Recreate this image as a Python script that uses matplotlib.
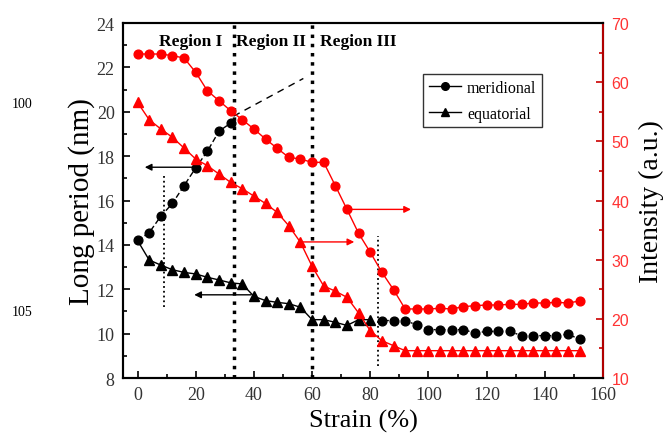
import numpy as np
import matplotlib
matplotlib.use('Agg')
import matplotlib.pyplot as plt
from matplotlib.lines import Line2D
from matplotlib.ticker import MultipleLocator

plt.rcParams['font.family'] = ['Liberation Serif', 'DejaVu Serif']

# long period (left axis), meridional split by a gap between 32 and 84 %
strain_mer_a = [0, 4, 8, 12, 16, 20, 24, 28, 32]
lp_mer_a = [14.2, 14.55, 15.29, 15.87, 16.67, 17.47, 18.22, 19.12, 19.49]
strain_mer_b = [84, 88, 92, 96, 100, 104, 108, 112, 116, 120, 124, 128, 132, 136, 140, 144, 148, 152]
lp_mer_b = [10.59, 10.59, 10.59, 10.39, 10.18, 10.18, 10.18, 10.18, 10.03, 10.10,
            10.10, 10.10, 9.91, 9.91, 9.91, 9.91, 9.98, 9.74]

strain_equ = [0, 4, 8, 12, 16, 20, 24, 28, 32, 36, 40, 44, 48, 52, 56, 60, 64, 68, 72, 76, 80]
lp_equ = [14.2, 13.32, 13.09, 12.88, 12.76, 12.69, 12.54, 12.42, 12.29, 12.24, 11.68,
          11.49, 11.41, 11.35, 11.19, 10.63, 10.63, 10.51, 10.37, 10.63, 10.63]

# intensity (right axis)
strain_int = list(range(0, 153, 4))
int_mer = [64.76, 64.76, 64.76, 64.48, 64.09, 61.66, 58.56, 56.87, 55.18, 53.66,
           52.09, 50.40, 48.82, 47.30, 47.01, 46.45, 46.45, 42.50, 38.50, 34.45,
           31.25, 27.87, 24.93, 21.67, 21.67, 21.67, 21.78, 21.67, 22.06, 22.23,
           22.34, 22.34, 22.45, 22.45, 22.68, 22.68, 22.79, 22.68, 23.02]
int_equ = [56.59, 53.66, 52.09, 50.68, 48.87, 47.01, 45.89, 44.48, 43.07, 42.0,
           40.75, 39.5, 38.0, 35.74, 32.93, 28.88, 25.55, 24.68, 23.64, 20.99,
           18.0, 16.31, 15.46] + [14.62] * 16

# annotations
region_bounds = [33, 60]
region_names = ['Region I', 'Region II', 'Region III']
region_x = [18.4, 45.7, 76]
extrap_x = [33, 57]
extrap_y = [19.8, 21.5]

red = '#ff0000'

fig = plt.figure(figsize=(6.64, 4.35), dpi=100)
ax = fig.add_axes([0.1852, 0.1287, 0.7229, 0.8161])
ax2 = ax.twinx()

# left axis data
ax.plot(strain_mer_a, lp_mer_a, color='k', lw=1, ls=(0, (4, 2)), marker='o', ms=6.3, zorder=4)
ax.plot(strain_mer_b, lp_mer_b, color='k', lw=1, ls=(0, (1.5, 2)), marker='o', ms=6.3, zorder=4)
ax.plot(strain_equ, lp_equ, color='k', lw=1, marker='^', ms=7.3, markevery=slice(1, None), zorder=3)
ax.plot(extrap_x, extrap_y, color='k', lw=1, ls=(0, (5, 4)))

# right axis data
ax2.plot(strain_int, int_mer, color=red, lw=1, marker='o', ms=6.3)
ax2.plot(strain_int, int_equ, color=red, lw=1, marker='^', ms=7.3)

# region separators
for xb in region_bounds:
    ax.axvline(xb, color='k', ls=':', lw=2.5, zorder=5)
for name, xr in zip(region_names, region_x):
    ax.text(xr, 23.2, name, ha='center', va='center', fontsize=12.5, fontweight='bold')

ax.plot([9, 9], [11.2, 17.1], color='k', ls=':', lw=1.3)
ax.plot([82.7, 82.7], [8.55, 14.4], color='k', ls=':', lw=1.3)

# arrows
arr_k = dict(arrowstyle='-|>', color='k', lw=1, mutation_scale=10, shrinkA=0, shrinkB=0)
arr_r = dict(arrowstyle='-|>', color=red, lw=1, mutation_scale=10, shrinkA=0, shrinkB=0)
ax.annotate('', xy=(2.5, 17.5), xytext=(20, 17.5), arrowprops=arr_k)
ax.annotate('', xy=(19.5, 11.75), xytext=(39, 11.75), arrowprops=arr_k)
ax2.annotate('', xy=(94, 38.5), xytext=(72, 38.5), arrowprops=arr_r)
ax2.annotate('', xy=(74.5, 33.0), xytext=(56, 33.0), arrowprops=arr_r)

# axes
ax.set_xlim(-5, 160)
ax.set_ylim(8, 24)
ax2.set_ylim(10, 70)
ax.xaxis.set_major_locator(MultipleLocator(20))
ax.xaxis.set_minor_locator(MultipleLocator(10))
ax.yaxis.set_major_locator(MultipleLocator(2))
ax.yaxis.set_minor_locator(MultipleLocator(1))
ax2.yaxis.set_major_locator(MultipleLocator(10))
ax2.yaxis.set_minor_locator(MultipleLocator(5))

ax.tick_params(which='both', direction='in', top=False, right=False, labelsize=13,
               labelcolor='#333333', width=1.2)
ax.tick_params(which='major', length=5, pad=6)
ax.tick_params(which='minor', length=3)
ax2.tick_params(which='both', direction='in', colors='#cc0000', labelcolor='#ff3333',
                labelsize=11.5, width=1.2)
ax2.tick_params(which='major', length=5, pad=6)
ax2.tick_params(which='minor', length=3)
for lab in ax2.get_yticklabels():
    lab.set_family('Liberation Sans')
for sp in ax.spines.values():
    sp.set_linewidth(1.5)
for sp in ax2.spines.values():
    sp.set_linewidth(1.5)
ax2.spines['right'].set_color('#b00000')

ax.set_xlabel('Strain (%)', fontsize=19, labelpad=4)
ax.set_ylabel('Long period (nm)', fontsize=21, labelpad=1)
ax2.set_ylabel('Intensity (a.u.)', fontsize=20, labelpad=7)

handles = [Line2D([], [], color='k', lw=1, marker='o', ms=5.5),
           Line2D([], [], color='k', lw=1, marker='^', ms=6)]
leg = ax2.legend(handles, ['meridional', 'equatorial'], loc='upper left',
                 bbox_to_anchor=(0.625, 0.855), fontsize=11.5, frameon=True, fancybox=False,
                 handlelength=2.0, handletextpad=0.4, borderpad=0.35, labelspacing=0.6,
                 borderaxespad=0)
leg.get_frame().set_edgecolor('k')
leg.get_frame().set_linewidth(1)

# manuscript line numbers in the margin
fig.text(0.018, 1 - 104 / 435, '100', fontsize=10, va='center')
fig.text(0.018, 1 - 313 / 435, '105', fontsize=10, va='center')

fig.savefig('out.png', dpi=100)
